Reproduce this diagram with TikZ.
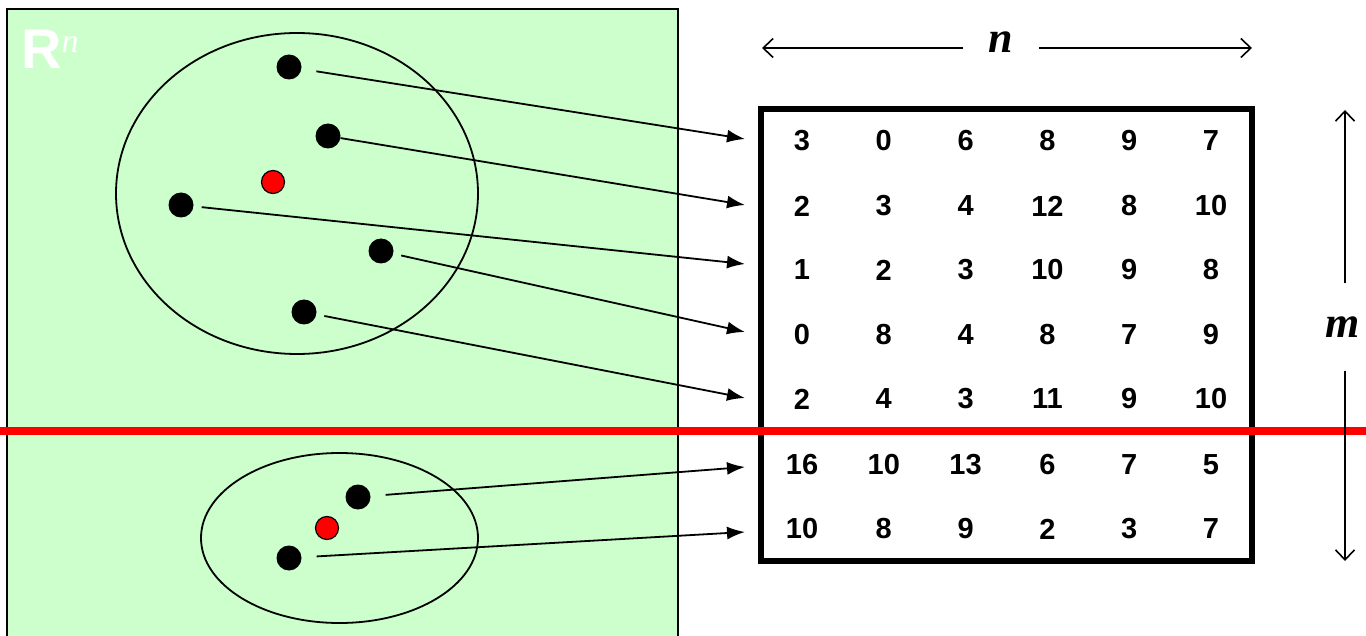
\documentclass[tikz,border=0pt]{standalone}
\usepackage{fontspec}
\setmainfont{Liberation Serif}
\setsansfont{Liberation Sans}
\usetikzlibrary{arrows.meta,shapes.geometric}
\definecolor{lightgreen}{RGB}{204,255,204}
\tikzset{
  dot/.style={circle,fill=black,inner sep=0pt,minimum size=25pt},
  reddot/.style={circle,fill=red,draw=black,line width=1.2pt,inner sep=0pt,minimum size=23pt},
  conn/.style={line width=1.8pt,-{Latex[length=18pt,width=13pt]}},
  cell/.style={font=\sffamily\bfseries\fontsize{29}{29}\selectfont,inner sep=0pt,anchor=center},
  dimarrow/.style={line width=1.6pt,-{Straight Barb[length=10pt,width=19pt]}},
  dimlabel/.style={font=\rmfamily\bfseries\itshape\fontsize{44}{44}\selectfont,inner sep=0pt},
  region/.style={line width=1.8pt},
}
\begin{document}
\begin{tikzpicture}[x=1pt,y=-1pt]
\useasboundingbox (0,0) rectangle (1366,636);
\clip (0,0) rectangle (1366,636);
% green space
\draw[fill=lightgreen,line width=2pt] (7,9) rectangle (678,660);
\node[anchor=base west,text=white,inner sep=0pt] (Rn) at (21,69)
  {\sffamily\bfseries\fontsize{56}{56}\selectfont R\raisebox{16pt}{\rmfamily\mdseries\itshape\fontsize{34}{34}\selectfont n}};
% ellipses
\node[ellipse,draw,region,minimum width=362pt,minimum height=321pt,inner sep=0pt] (E1) at (297,193.5) {};
\node[ellipse,draw,region,minimum width=277pt,minimum height=170pt,inner sep=0pt] (E2) at (339.5,538) {};
% points
\node[dot] (p1) at (289,67) {};
\node[dot] (p2) at (328,136) {};
\node[reddot] (c1) at (273,182) {};
\node[dot] (p3) at (181,205) {};
\node[dot] (p4) at (381,251) {};
\node[dot] (p5) at (304,312) {};
\node[dot] (p6) at (358,497) {};
\node[reddot] (c2) at (327,528) {};
\node[dot] (p7) at (289,558) {};
% matrix box
\node[draw,line width=6pt,minimum width=491pt,minimum height=452pt,inner sep=0pt] (M) at (1006.5,335) {};
\foreach \r/\y/\vals in {1/141/{3,0,6,8,9,7},2/206/{2,3,4,12,8,10},3/270/{1,2,3,10,9,8},4/335/{0,8,4,8,7,9},5/399/{2,4,3,11,9,10},6/465/{16,10,13,6,7,5},7/529/{10,8,9,2,3,7}}{
  \foreach \v [count=\c] in \vals {
    \node[cell] (m\r-\c) at ({802+81.8*(\c-1)},\y) {\v};
  }
}
% arrow targets
\coordinate (r1) at (745,139);
\coordinate (r2) at (745,205);
\coordinate (r3) at (745,264);
\coordinate (r4) at (745,332);
\coordinate (r5) at (745,398);
\coordinate (r6) at (745,467);
\coordinate (r7) at (745,532);
\draw[conn,shorten <=15pt] (p1) -- (r1);
\draw[conn] (p2) -- (r2);
\draw[conn,shorten <=8pt] (p3) -- (r3);
\draw[conn,shorten <=8pt] (p4) -- (r4);
\draw[conn,shorten <=8pt] (p5) -- (r5);
\draw[conn,shorten <=15pt] (p6) -- (r6);
\draw[conn,shorten <=15pt] (p7) -- (r7);
% red separating line
\coordinate (sL) at (0,431);
\coordinate (sR) at (1366,431);
\draw[red,line width=7.5pt] (sL) -- (sR);
% dimension arrows
\node[dimlabel,minimum width=76pt,minimum height=30pt] (nlab) at (1001,42) {n};
\coordinate (nL) at (762,48);
\coordinate (nR) at (1252,48);
\draw[dimarrow] (nlab.west |- nL) -- (nL);
\draw[dimarrow] (nlab.east |- nR) -- (nR);
\node[dimlabel,minimum width=40pt,minimum height=87pt] (mlab) at (1343,327) {m};
\coordinate (mT) at (1345,110);
\coordinate (mB) at (1345,561);
\draw[dimarrow] (mlab.north -| mT) -- (mT);
\draw[dimarrow] (mlab.south -| mB) -- (mB);
\end{tikzpicture}
\end{document}
